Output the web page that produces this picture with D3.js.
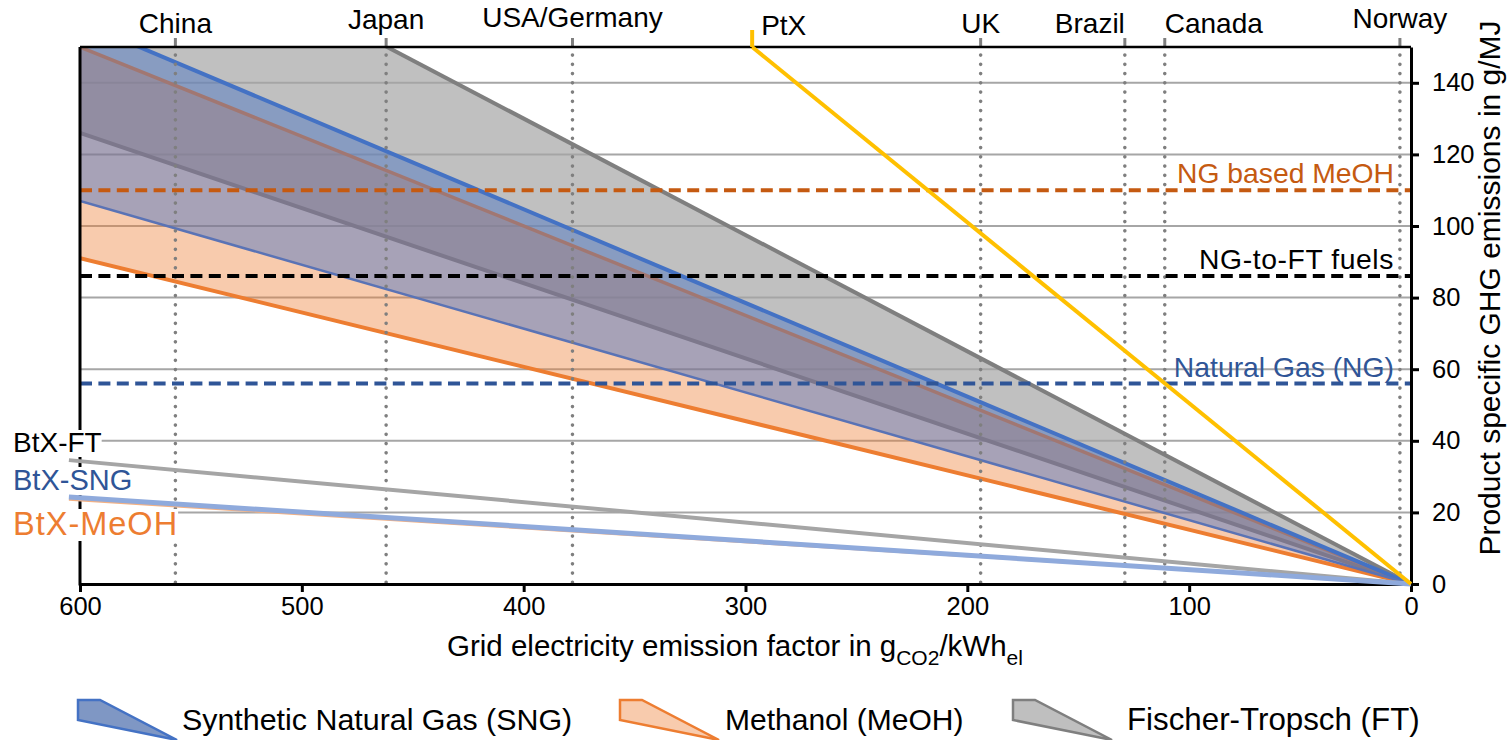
<!DOCTYPE html>
<html>
<head>
<meta charset="utf-8">
<script src="https://cdn.jsdelivr.net/npm/d3@7"></script>
<style>
  body { margin: 0; background: #fff; }
  svg { display: block; font-family: "Liberation Sans", Arial, sans-serif; }
</style>
</head>
<body>
<svg id="chart" width="1507" height="740"></svg>
<script>
// grid emission factor end points (g CO2 / kWh el)
var efPoints = [600, 0];

// wedge edges, product emissions (g/MJ) at efPoints
var ftHigh = [195, 0], ftLow = [126, 0];
var meohHigh = [150, 0], meohLow = [91, 0];
var sngHigh = [157, 0], sngLow = [107, 0];

// biomass-to-X lines, start slightly left of 600
var btxPoints = [605, 0];
var btxFT = [34.6, 0];
var btxSNG = [24.3, 0];
var btxMeOH = [23.6, 0];

// power-to-X line
var ptxPoints = [297, 0];
var ptxValues = [150, 0];

// fossil references
var refNames = ["NG based MeOH", "NG-to-FT fuels", "Natural Gas (NG)"];
var refValues = [110, 86, 56];
var refColors = ["#C55A11", "#000000", "#2F5597"];

// countries
var countries = ["China", "Japan", "USA/Germany", "UK", "Brazil", "Canada", "Norway"];
var countryEF = [557, 462, 378, 194, 129, 111, 5];

var xTicks = [600, 500, 400, 300, 200, 100, 0];
var yTicks = [0, 20, 40, 60, 80, 100, 120, 140];
var yGrid = [20, 40, 60, 80, 100, 120, 140];

var svg = d3.select("#chart");
var x = d3.scaleLinear().domain([600, 0]).range([80, 1411]);
var y = d3.scaleLinear().domain([0, 150]).range([584, 47]);

svg.append("clipPath").attr("id", "plotclip")
  .append("rect")
  .attr("x", x(600)).attr("y", y(150))
  .attr("width", x(0) - x(600)).attr("height", y(0) - y(150));

// horizontal grid
svg.append("g").selectAll("line")
  .data(yGrid).enter().append("line")
  .attr("x1", x(600)).attr("x2", x(0))
  .attr("y1", function(d) { return y(d); })
  .attr("y2", function(d) { return y(d); })
  .style("stroke", "#A6A6A6")
  .style("stroke-width", 2);

var plot = svg.append("g").attr("clip-path", "url(#plotclip)");

function wedge(hi, lo, fill, op, hiColor, hiW, loColor, loW) {
  var rows = efPoints.map(function(e, i) { return {ef: e, hi: hi[i], lo: lo[i]}; });
  var area = d3.area()
    .x(function(d) { return x(d.ef); })
    .y0(function(d) { return y(d.lo); })
    .y1(function(d) { return y(d.hi); });
  plot.append("path").datum(rows)
    .attr("d", area)
    .style("fill", fill)
    .style("fill-opacity", op);
  var lineHi = d3.line().x(function(d) { return x(d.ef); }).y(function(d) { return y(d.hi); });
  var lineLo = d3.line().x(function(d) { return x(d.ef); }).y(function(d) { return y(d.lo); });
  plot.append("path").datum(rows).attr("d", lineHi)
    .style("fill", "none").style("stroke", hiColor).style("stroke-width", hiW);
  plot.append("path").datum(rows).attr("d", lineLo)
    .style("fill", "none").style("stroke", loColor).style("stroke-width", loW);
}

wedge(ftHigh, ftLow, "#A5A5A5", 0.7, "#7F7F7F", 4, "#7F7F7F", 4);
wedge(meohHigh, meohLow, "#ED7D31", 0.4, "#ED7D31", 3.5, "#ED7D31", 4);
wedge(sngHigh, sngLow, "#4472C4", 0.45, "#4472C4", 4, "#5A73B5", 2.5);

// country lines
var cg = svg.append("g");
countries.forEach(function(c, i) {
  var cx = x(countryEF[i]);
  cg.append("line")
    .attr("x1", cx).attr("x2", cx).attr("y1", 38).attr("y2", y(150))
    .style("stroke", "#7F7F7F").style("stroke-width", 3);
  cg.append("line")
    .attr("x1", cx).attr("x2", cx).attr("y1", y(150) + 8).attr("y2", y(0))
    .style("stroke", "#7F7F7F").style("stroke-width", 3.6)
    .style("stroke-linecap", "round")
    .style("stroke-dasharray", "0.1 9.15");
});

var labelAnchor = {"Brazil": "end", "Canada": "start"};
var labelBase = {"Japan": 29, "USA/Germany": 27, "Norway": 28};
cg.selectAll("text.country")
  .data(countries).enter().append("text")
  .attr("class", "country")
  .attr("x", function(d, i) { return x(countryEF[i]); })
  .attr("y", function(d) { return labelBase[d] || 33; })
  .attr("text-anchor", function(d) { return labelAnchor[d] || "middle"; })
  .style("font-size", "28px")
  .text(function(d) { return d; });

// fossil reference dashed lines
var refSpacing = [0, 0.6, 0];
refValues.forEach(function(v, i) {
  svg.append("line")
    .attr("x1", x(600)).attr("x2", x(0))
    .attr("y1", y(v)).attr("y2", y(v))
    .style("stroke", refColors[i]).style("stroke-width", 4)
    .style("stroke-dasharray", "12 6.4");
  svg.append("text")
    .attr("x", 1394).attr("y", y(v) - 7)
    .attr("text-anchor", "end")
    .style("font-size", "28.3px")
    .style("letter-spacing", refSpacing[i] + "px")
    .style("fill", refColors[i])
    .text(refNames[i]);
});

// axes
var right = svg.append("g")
  .attr("transform", "translate(" + x(0) + ",0)")
  .call(d3.axisRight(y).tickValues(yTicks).tickSize(8).tickSizeOuter(0).tickPadding(13));
var bottom = svg.append("g")
  .attr("transform", "translate(0," + y(0) + ")")
  .call(d3.axisBottom(x).tickValues(xTicks).tickSize(8).tickSizeOuter(0).tickPadding(5));
[right, bottom].forEach(function(a) {
  a.select(".domain").style("stroke", "#000").style("stroke-width", 3);
  a.selectAll(".tick line").style("stroke", "#000").style("stroke-width", 3);
  a.selectAll(".tick text").style("font-size", "25.5px").style("fill", "#000")
    .style("font-family", "'Liberation Sans', Arial, sans-serif");
});
svg.append("line")
  .attr("x1", x(600)).attr("x2", x(0)).attr("y1", y(150)).attr("y2", y(150))
  .style("stroke", "#000").style("stroke-width", 2.5);
svg.append("line")
  .attr("x1", x(600)).attr("x2", x(600)).attr("y1", y(150)).attr("y2", y(0) + 1.5)
  .style("stroke", "#000").style("stroke-width", 3);

// BtX labels with white boxes
var btxLabels = [
  {t: "BtX-FT", c: "#000000", y: 452, s: 28, ls: 0},
  {t: "BtX-SNG", c: "#2F5597", y: 490, s: 29, ls: 0},
  {t: "BtX-MeOH", c: "#ED7D31", y: 535, s: 32.5, ls: 1}
];
btxLabels.forEach(function(b) {
  var g = svg.append("g");
  var t = g.append("text")
    .attr("x", 13).attr("y", b.y)
    .style("font-size", b.s + "px")
    .style("letter-spacing", b.ls + "px")
    .style("fill", b.c)
    .text(b.t);
  var bb = t.node().getBBox();
  g.insert("rect", "text")
    .attr("x", bb.x - 3).attr("y", bb.y + 3)
    .attr("width", bb.width + 3).attr("height", bb.height - 4)
    .style("fill", "#fff");
});

// BtX lines
function simpleLine(xs, vs, color, w) {
  var rows = xs.map(function(e, i) { return [e, vs[i]]; });
  svg.append("path").datum(rows)
    .attr("d", d3.line().x(function(d) { return x(d[0]); }).y(function(d) { return y(d[1]); }))
    .style("fill", "none").style("stroke", color).style("stroke-width", w);
}
simpleLine(btxPoints, btxFT, "#A5A5A5", 4);
simpleLine(btxPoints, btxMeOH, "#F4B183", 2.5);
simpleLine(btxPoints, btxSNG, "#8FAADC", 5);

// PtX
simpleLine(ptxPoints, ptxValues, "#FFC000", 4);
svg.append("line")
  .attr("x1", x(ptxPoints[0])).attr("x2", x(ptxPoints[0]))
  .attr("y1", 30).attr("y2", y(150))
  .style("stroke", "#FFC000").style("stroke-width", 4);
svg.append("text")
  .attr("x", x(ptxPoints[0]) + 9).attr("y", 35)
  .style("font-size", "28px")
  .text("PtX");

// axis titles
var xt = svg.append("text")
  .attr("x", 447).attr("y", 656)
  .style("font-size", "29.5px");
xt.append("tspan").text("Grid electricity emission factor in g");
xt.append("tspan").attr("dy", 9).style("font-size", "21px").text("CO2");
xt.append("tspan").attr("dy", -9).text("/kWh");
xt.append("tspan").attr("dy", 9).style("font-size", "21px").text("el");

svg.append("text")
  .attr("transform", "translate(1500,288) rotate(-90)")
  .attr("text-anchor", "middle")
  .style("font-size", "30px")
  .text("Product specific GHG emissions in g/MJ");

// legend
var legend = [
  {name: "Synthetic Natural Gas (SNG)", fill: "#7F97C4", stroke: "#4472C4", sx: 78, tx: 182, fs: 30.4},
  {name: "Methanol (MeOH)", fill: "#F8CBAD", stroke: "#ED7D31", sx: 620, tx: 725, fs: 30},
  {name: "Fischer-Tropsch (FT)", fill: "#BFBFBF", stroke: "#7F7F7F", sx: 1013, tx: 1127, fs: 31.3}
];
legend.forEach(function(l) {
  var pts = [[l.sx, 700], [l.sx + 22, 700], [l.sx + 99, 740], [l.sx, 720]];
  svg.append("polygon")
    .attr("points", pts.map(function(p) { return p.join(","); }).join(" "))
    .style("fill", l.fill).style("stroke", l.stroke).style("stroke-width", 2.5);
  svg.append("text")
    .attr("x", l.tx).attr("y", 730)
    .style("font-size", l.fs + "px")
    .text(l.name);
});
</script>
</body>
</html>
